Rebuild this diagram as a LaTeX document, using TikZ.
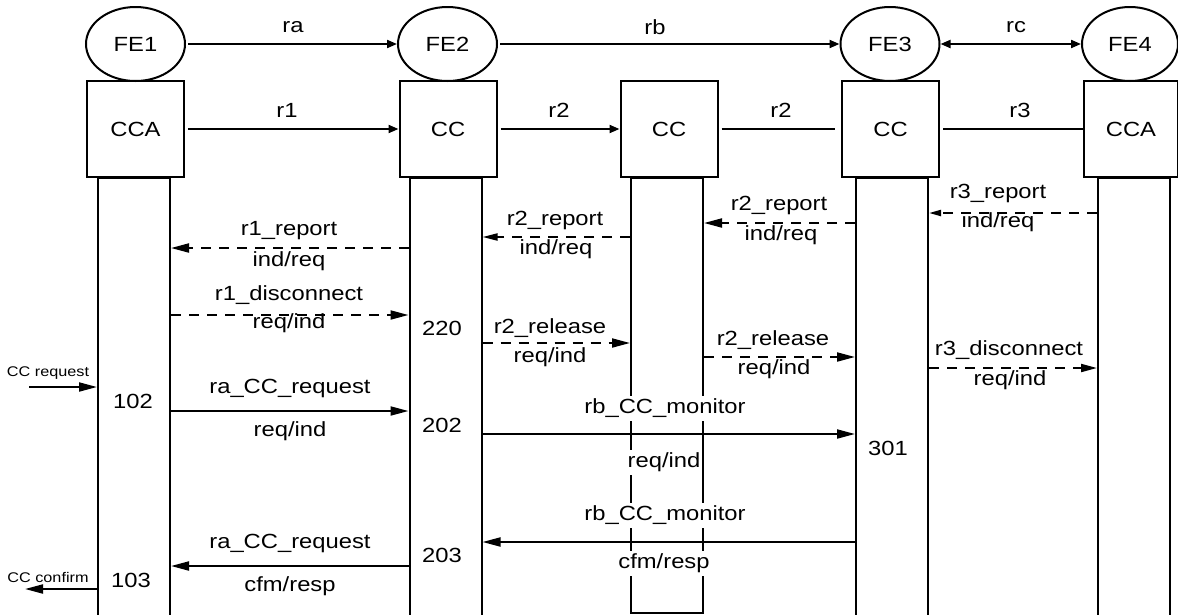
\documentclass[tikz,border=0pt]{standalone}
\usepackage{fontspec}
\setmainfont{Liberation Sans}[FakeStretch=1.16]
\usetikzlibrary{arrows.meta,shapes.geometric}
\begin{document}
\begin{tikzpicture}[x=1pt,y=-1pt,
  every node/.style={font=\fontsize{20.5}{23}\selectfont},
  fe/.style={draw, ellipse, line width=2pt, minimum width=99pt, minimum height=74pt, inner sep=0pt},
  fbox/.style={draw, rectangle, line width=2pt, minimum width=97pt, minimum height=96pt, inner sep=0pt},
  life/.style={draw, rectangle, line width=2pt, minimum width=72pt, anchor=north, inner sep=0pt},
  lbl/.style={inner sep=1pt, text height=15pt, text depth=4pt},
  wlbl/.style={lbl, fill=white, inner xsep=0pt, inner ysep=3pt},
  num/.style={inner sep=0pt},
  smalllbl/.style={font=\fontsize{14}{16}\selectfont, inner sep=0pt},
  ln/.style={line width=2pt},
  msg/.style={line width=2pt, -{Triangle[length=18pt,width=9pt]}},
  dmsg/.style={msg, dash pattern=on 10pt off 8pt},
  toparr/.style={line width=2pt, -{Triangle[length=10pt,width=8pt]}},
]
\useasboundingbox (0,0) rectangle (1178,614);
\clip (0,0) rectangle (1178,614);
\fill[white] (0,0) rectangle (1178,614);

% functional entities
\node[fe] (FE1) at (135.5,44) {FE1};
\node[fe] (FE2) at (447.5,44) {FE2};
\node[fe] (FE3) at (890,44) {FE3};
\node[fe, minimum width=96pt] (FE4) at (1130,44) {FE4};

% boxes
\node[fbox] (B1) at (135.5,129) {CCA};
\node[fbox] (B2) at (448,129) {CC};
\node[fbox] (B3) at (669,129) {CC};
\node[fbox] (B4) at (890.5,129) {CC};
\node[fbox, minimum width=94pt] (B5) at (1131,129) {CCA};

% lifelines
\node[life, minimum height=470pt] (L1) at (134,177) {};
\node[life, minimum height=470pt] (L2) at (445.5,177) {};
\node[life, minimum height=435pt] (L3) at (667,177) {};
\node[life, minimum height=470pt] (L4) at (892,177) {};
\node[life, minimum height=470pt] (L5) at (1134,177) {};

% top relations
\draw[toparr] ([xshift=2pt]FE1.east) -- (FE2.west);
\node at (293,27) {ra};
\draw[toparr] ([xshift=2pt]FE2.east) -- (FE3.west);
\node at (655,27) {rb};
\draw[line width=2pt, {Triangle[length=10pt,width=8pt]}-{Triangle[length=10pt,width=8pt]}] (FE3.east) -- (FE4.west);
\node at (1016,27) {rc};

\draw[toparr] ([xshift=3pt]B1.east) -- (B2.west);
\node at (287,110) {r1};
\draw[toparr] ([xshift=3pt]B2.east) -- (B3.west);
\node at (559,110) {r2};
\draw[ln] ([xshift=3pt]B3.east) -- ([xshift=-6pt]B4.west);
\node at (781,110) {r2};
\draw[ln] ([xshift=3pt]B4.east) -- (B5.west);
\node at (1020,110) {r3};

% labels
\node[lbl] (t1a) at (289,230) {r1\_report};
\node[lbl] (t1b) at (289,261) {ind/req};
\node[lbl] (t2a) at (555,220) {r2\_report};
\node[lbl] (t2b) at (556,249) {ind/req};
\node[lbl] (t3a) at (779,205) {r2\_report};
\node[lbl] (t3b) at (781,235) {ind/req};
\node[lbl] (t4a) at (998,193) {r3\_report};
\node[lbl] (t4b) at (998,222) {ind/req};
\node[lbl] (t5a) at (289,295) {r1\_disconnect};
\node[lbl] (t5b) at (289,323) {req/ind};
\node[lbl] (t6a) at (550,328) {r2\_release};
\node[lbl] (t6b) at (550,357) {req/ind};
\node[lbl] (t7a) at (773,340) {r2\_release};
\node[lbl] (t7b) at (774,369) {req/ind};
\node[lbl] (t8a) at (1009,350) {r3\_disconnect};
\node[lbl] (t8b) at (1010,380) {req/ind};
\node[lbl] (t10a) at (290,388) {ra\_CC\_request};
\node[lbl] (t10b) at (290,431) {req/ind};
\node[wlbl] (t11a) at (665,408) {rb\_CC\_monitor};
\node[wlbl] (t11b) at (664,462) {req/ind};
\node[wlbl] (t12a) at (665,515) {rb\_CC\_monitor};
\node[wlbl] (t12b) at (664,563) {cfm/resp};
\node[lbl] (t13a) at (290,543) {ra\_CC\_request};
\node[lbl] (t13b) at (290,586) {cfm/resp};
\node[smalllbl] (tq) at (48,373) {CC request};
\node[smalllbl] (tc) at (48,577) {CC confirm};

% state numbers
\node[num] (n220) at (442,328) {220};
\node[num] (n102) at (133,401) {102};
\node[num] (n202) at (442,425) {202};
\node[num] (n301) at (888,448) {301};
\node[num] (n203) at (442,555) {203};
\node[num] (n103) at (131,580) {103};

% messages
\draw[dmsg] (L2.west |- 0,248) -- (L1.east |- 0,248);
\draw[dmsg, -{Triangle[length=15pt,width=7pt]}] (L3.west |- 0,237) -- (L2.east |- 0,237);
\draw[dmsg] (L4.west |- 0,223) -- (L3.east |- 0,223);
\draw[dmsg, -{Triangle[length=12pt,width=6pt]}] (L5.west |- 0,213) -- (L4.east |- 0,213);
\draw[dmsg] (L1.east |- 0,315) -- (L2.west |- 0,315);
\draw[dmsg] (L2.east |- 0,343) -- (L3.west |- 0,343);
\draw[dmsg] (L3.east |- 0,357) -- (L4.west |- 0,357);
\draw[dmsg, -{Triangle[length=16pt,width=8pt]}] (L4.east |- 0,368) -- (L5.west |- 0,368);

\coordinate (ccreq) at (29,387);
\draw[msg] (ccreq) -- (L1.west |- ccreq);
\draw[msg] (L1.east |- 0,411) -- (L2.west |- 0,411);
\draw[msg] (L2.east |- 0,434) -- (L4.west |- 0,434);
\draw[msg] (L4.west |- 0,542) -- (L2.east |- 0,542);
\draw[msg] (L2.west |- 0,566) -- (L1.east |- 0,566);
\coordinate (ccconf) at (25,589);
\draw[msg] (L1.west |- ccconf) -- (ccconf);
\end{tikzpicture}
\end{document}
